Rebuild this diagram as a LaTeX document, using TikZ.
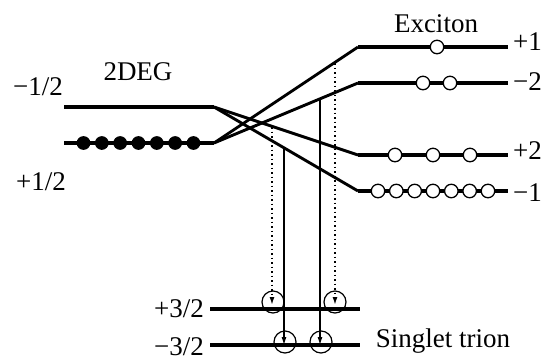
\documentclass[tikz,border=0pt]{standalone}
\usepackage{fontspec}
\setmainfont{Liberation Serif}
\usetikzlibrary{arrows.meta}
\begin{document}
\begin{tikzpicture}[x=1pt,y=-1pt,
  level/.style={line width=3.2pt},
  link/.style={line width=2.9pt},
  lbl/.style={font=\fontsize{27}{32}\selectfont, inner sep=0pt},
  edot/.style={circle, draw, line width=1.2pt, fill=black, minimum size=12.5pt, inner sep=0pt},
  hole/.style={circle, draw, line width=1.3pt, fill=white, minimum size=13.5pt, inner sep=0pt},
  tcirc/.style={circle, draw, line width=1.2pt, minimum size=22pt, inner sep=0pt},
  solidarr/.style={line width=1.1pt, -{Latex[length=8pt,width=5pt]}},
  dotarr/.style={line width=1.5pt, dash pattern=on 1.5pt off 3pt, -{Latex[length=8pt,width=5pt]}}
]
\useasboundingbox (0,0) rectangle (542,360);

% 2DEG levels
\coordinate (mL) at (64,107);  \coordinate (mR) at (214,107);
\coordinate (pL) at (64,143);  \coordinate (pR) at (214,143);
\draw[level] (mL) -- (mR);
\draw[level] (pL) -- (pR);

% exciton levels
\coordinate (e1L) at (358,47);  \coordinate (e1R) at (508,47);
\coordinate (e2L) at (358,83);  \coordinate (e2R) at (508,83);
\coordinate (e3L) at (358,155); \coordinate (e3R) at (508,155);
\coordinate (e4L) at (358,191); \coordinate (e4R) at (508,191);
\draw[level] (e1L) -- (e1R);
\draw[level] (e2L) -- (e2R);
\draw[level] (e3L) -- (e3R);
\draw[level] (e4L) -- (e4R);

% crossing links
\draw[link, line join=round] (pR) -- (e1L);
\draw[link, line join=round] (pR) -- (e2L);
\draw[link, line join=round] (mR) -- (e3L);
\draw[link, line join=round] (mR) -- (e4L);

% trion levels
\coordinate (t1L) at (210,309); \coordinate (t1R) at (360,309);
\coordinate (t2L) at (210,345); \coordinate (t2R) at (360,345);
\draw[level] (t1L) -- (t1R);
\draw[level] (t2L) -- (t2R);

% electrons in 2DEG
\foreach \i in {0,...,6} {
  \node[edot] (d\i) at ({83.5+18.33*\i},143) {};
}

% holes on exciton levels
\node[hole] (h1) at (437,47) {};
\node[hole] (h2a) at (423,83) {};
\node[hole] (h2b) at (450,83) {};
\node[hole] (h3a) at (395,155) {};
\node[hole] (h3b) at (433,155) {};
\node[hole] (h3c) at (470,155) {};
\foreach \i in {0,...,6} {
  \node[hole] (h4\i) at ({378+18.33*\i},191) {};
}

% trion circles
\node[tcirc] (c1) at (273,302) {};
\node[tcirc] (c2) at (335,302) {};
\node[tcirc] (c3) at (285,342) {};
\node[tcirc] (c4) at (321,342) {};

% transitions
\coordinate (sA) at (272,127);
\coordinate (sB) at (284,148);
\coordinate (sC) at (320,99);
\coordinate (sD) at (335,63);
\coordinate (eA) at (272,305);
\coordinate (eB) at (284,345);
\coordinate (eC) at (320,345);
\coordinate (eD) at (335,305);
\draw[dotarr] (sA) -- (eA);
\draw[solidarr] (sB) -- (eB);
\draw[solidarr] (sC) -- (eC);
\draw[dotarr] (sD) -- (eD);

% labels
\node[lbl, anchor=base] (l2deg) at (138,80) {2DEG};
\node[lbl, anchor=base] (lm12) at (38,95) {−1/2};
\node[lbl, anchor=base] (lp12) at (41,190) {+1/2};
\node[lbl, anchor=base] (lexc) at (436,32) {Exciton};
\node[lbl, anchor=base west] (lp1) at (513,50) {+1};
\node[lbl, anchor=base west] (lm2) at (513,90) {−2};
\node[lbl, anchor=base west] (lp2) at (513,159) {+2};
\node[lbl, anchor=base west] (lm1) at (513,201) {−1};
\node[lbl, anchor=base east] (lp32) at (204,317) {+3/2};
\node[lbl, anchor=base east] (lm32) at (204,355) {−3/2};
\node[lbl, anchor=base] (ltri) at (443,347) {Singlet trion};
\end{tikzpicture}
\end{document}
